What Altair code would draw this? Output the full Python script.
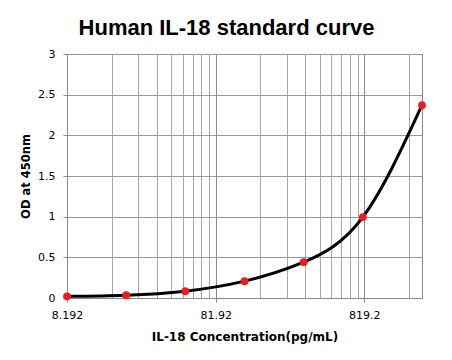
import altair as alt
import pandas as pd

# Standard curve data
conc = [8.192, 20.48, 51.2, 128, 320, 800, 2000]
od = [0.02, 0.035, 0.084, 0.207, 0.441, 0.995, 2.37]

x_major = [8.192, 81.92, 819.2]
x_domain = [8.192, 2000]
y_ticks = [0, 0.5, 1, 1.5, 2, 2.5, 3]

x_grid = [round(k * m, 4) for m in x_major for k in range(1, 10) if k * m <= x_domain[1]]

df = pd.DataFrame({"conc": conc, "od": od})

major_test = "abs(log(datum.value/8.192)/LN10 - round(log(datum.value/8.192)/LN10)) < 0.001"

x_enc = alt.X(
    "conc:Q",
    scale=alt.Scale(type="log", domain=x_domain, nice=False),
    axis=alt.Axis(
        values=x_grid,
        title="IL-18  Concentration(pg/mL)",
        labelExpr=f"({major_test}) ? format(datum.value, '~g') : ''",
        labelFont="DejaVu Sans",
        labelFontSize=11,
        labelColor="#000000",
        labelPadding=7,
        labelFlush=False,
        labelOverlap=False,
        tickSize=4,
        tickColor="#888888",
        tickOpacity={"condition": {"test": major_test, "value": 1}, "value": 0},
        gridColor={"condition": {"test": major_test, "value": "#8a8a8a"}, "value": "#a8a8a8"},
        gridOpacity=1,
        gridWidth=1,
        domainColor="#888888",
        titleFont="DejaVu Sans",
        titleFontSize=12,
        titleFontWeight="bold",
        titleColor="#000000",
        titlePadding=11,
    ),
)

y_enc = alt.Y(
    "od:Q",
    scale=alt.Scale(domain=[0, 3], nice=False),
    axis=alt.Axis(
        values=y_ticks,
        format="~g",
        title="OD at 450nm",
        labelFont="DejaVu Sans",
        labelFontSize=11,
        labelColor="#000000",
        labelPadding=8,
        tickSize=4,
        tickColor="#888888",
        gridColor="#999999",
        gridOpacity=1,
        domainColor="#888888",
        titleFont="DejaVu Sans",
        titleFontSize=11.5,
        titleFontWeight="bold",
        titleColor="#000000",
        titlePadding=6,
    ),
)

base = alt.Chart(df)

line = base.mark_line(color="#000000", strokeWidth=3, interpolate="natural").encode(x=x_enc, y=y_enc)
pts = base.mark_circle(color="#ee1c1c", size=60, opacity=1).encode(x="conc:Q", y="od:Q")

chart = (
    alt.layer(line, pts)
    .properties(
        width=355,
        height=244,
        autosize=alt.AutoSizeParams(type="none"),
        padding={"left": 59, "top": 46, "right": 18, "bottom": 50},
        title=alt.TitleParams(
            text="Human IL-18 standard curve",
            font="Liberation Sans",
            fontSize=22,
            fontWeight="bold",
            color="#000000",
            anchor="middle",
            dx=-18,
            baseline="alphabetic",
            offset=-9,
        ),
    )
    .configure_view(stroke="#888888", strokeWidth=1)
)

chart.save("out.html", embed_options={"renderer": "svg", "actions": False})
